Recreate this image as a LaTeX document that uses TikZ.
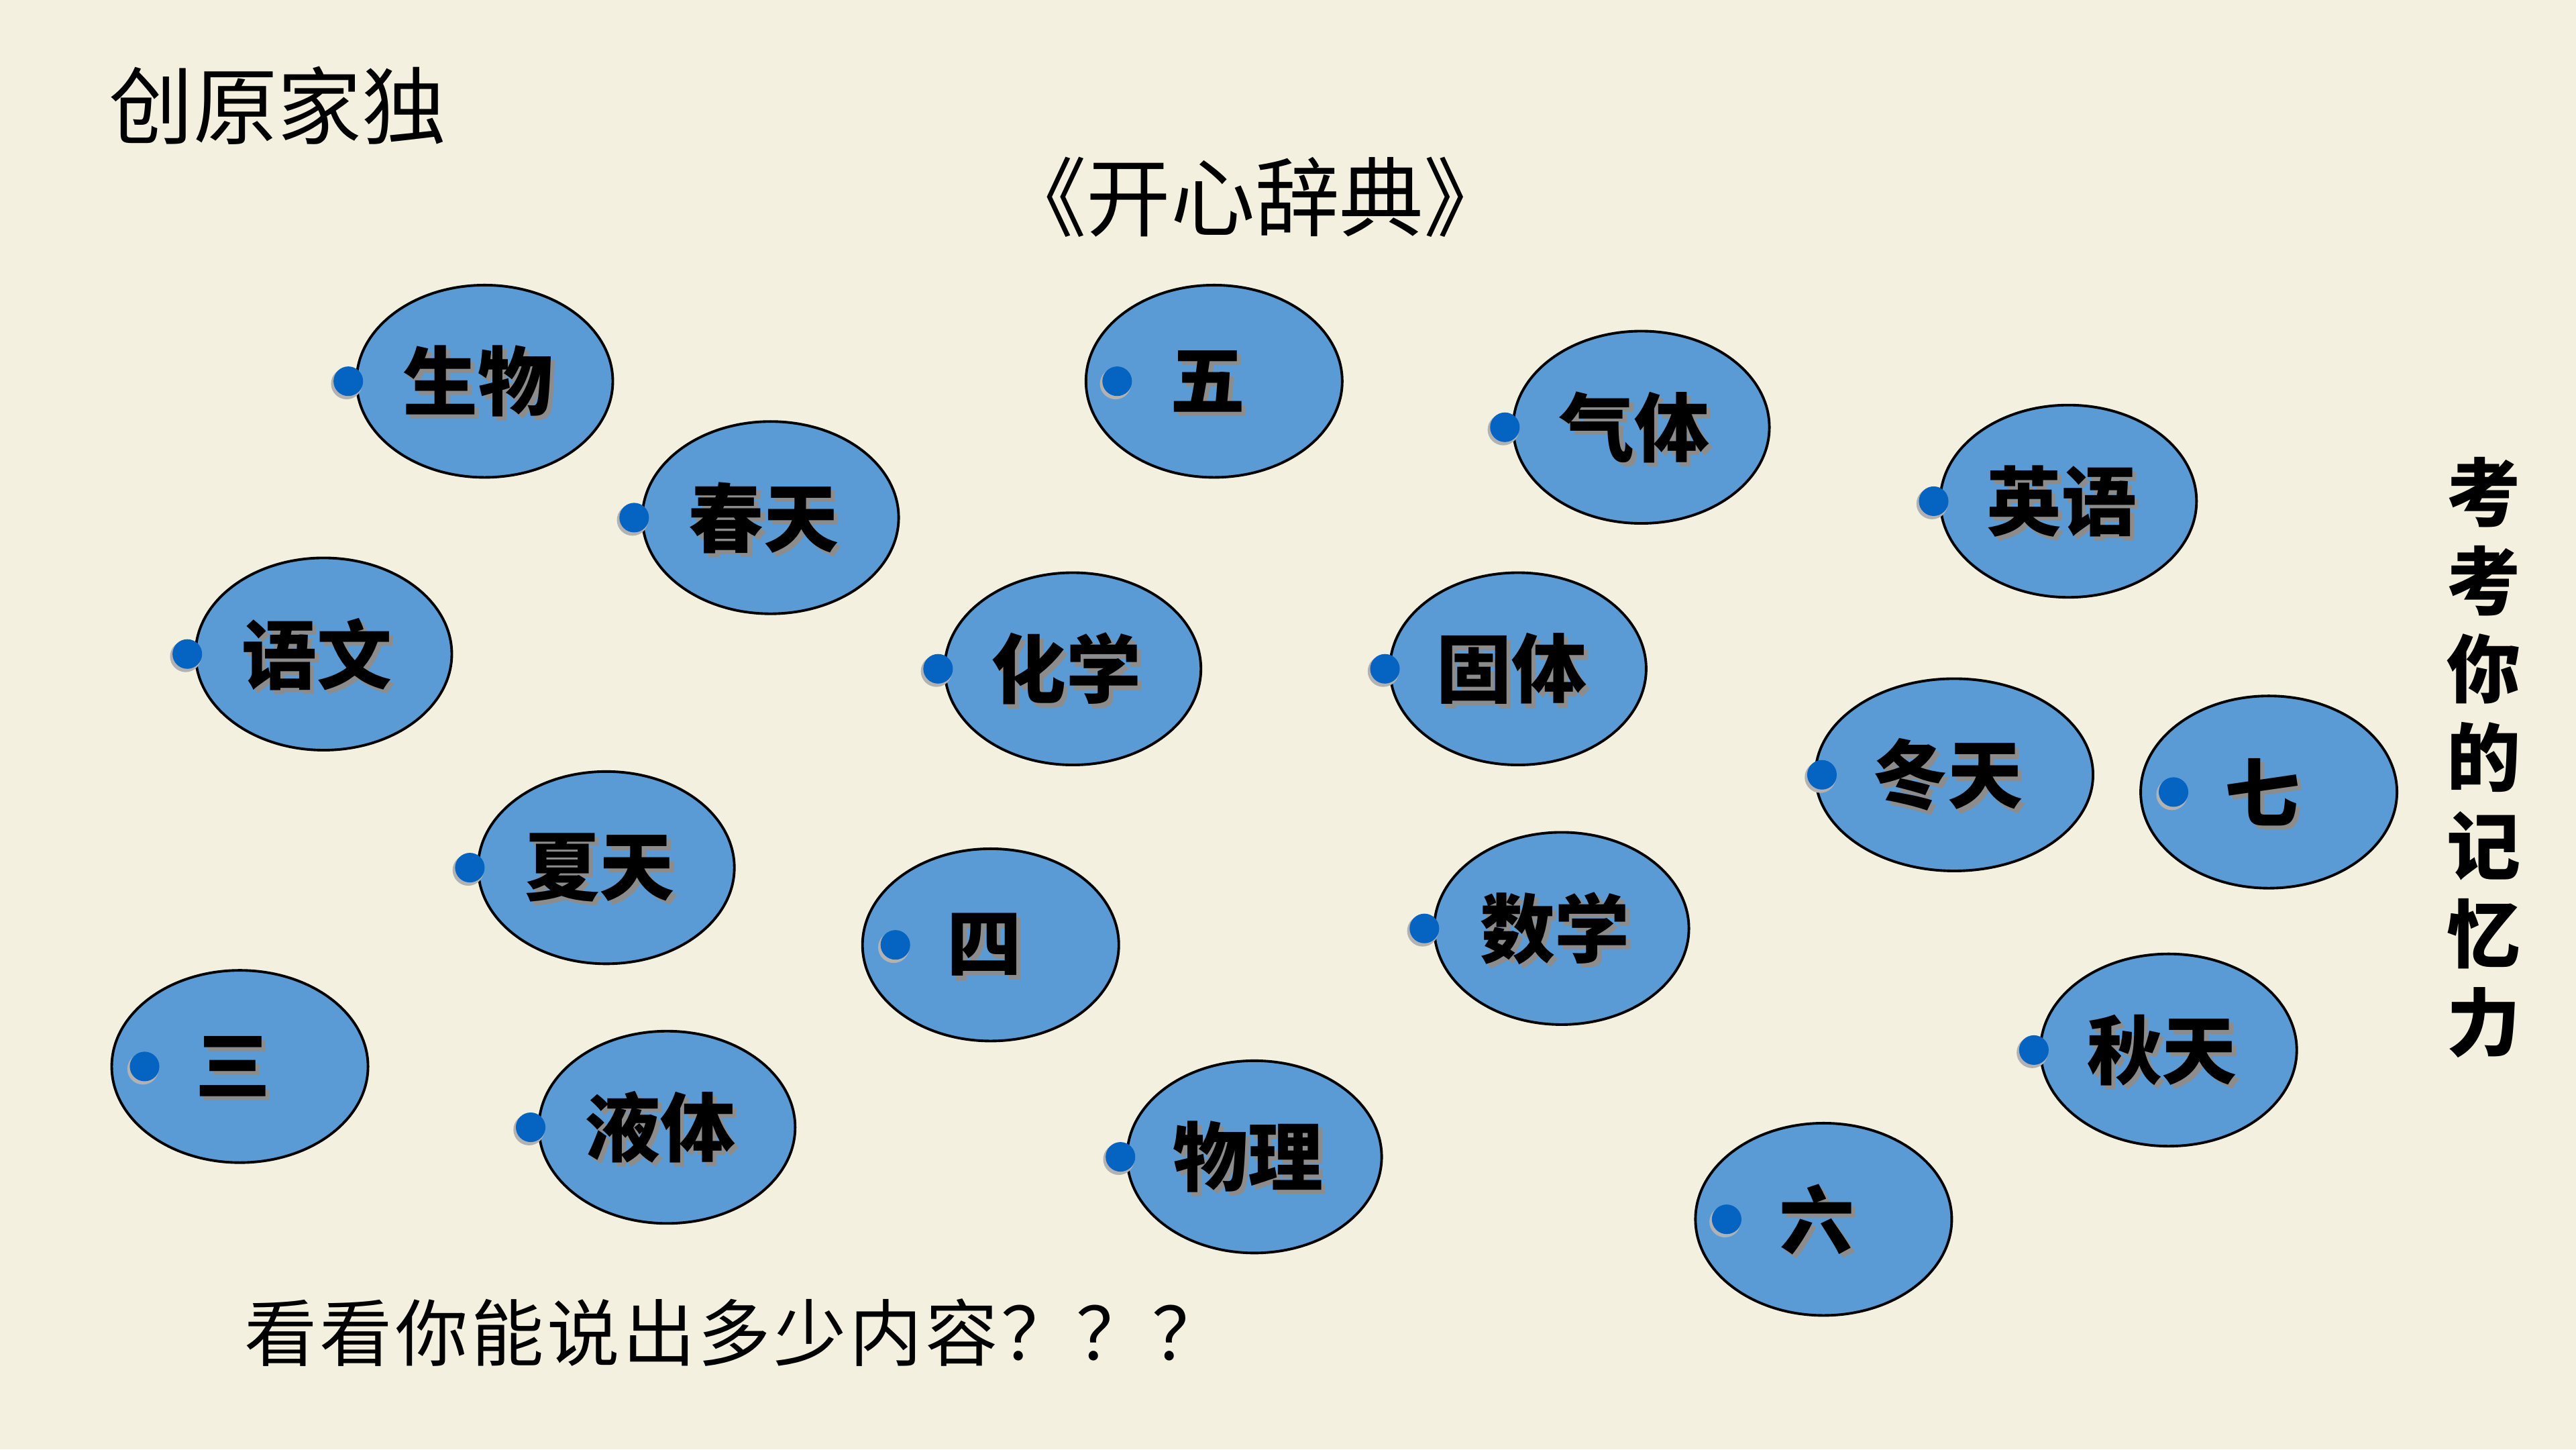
\documentclass[tikz,border=0pt]{standalone}
\usepackage{fontspec}
\setmainfont{Noto Sans CJK SC}
\newfontfamily\cjk{Noto Sans CJK SC}
\newfontfamily\cjkspaced[LetterSpace=4]{Noto Sans CJK SC}
\usetikzlibrary{shapes.geometric}
\definecolor{bg}{HTML}{F3F0DF}
\definecolor{bubblefill}{HTML}{5B9BD5}
\definecolor{dotblue}{HTML}{0563C1}
\tikzset{
  bub/.style={ellipse, draw=black, line width=0.45pt, fill=bubblefill, minimum height=1.17cm, inner sep=0pt},
  bubtxt/.style={font=\cjk\bfseries\fontsize{13pt}{13pt}\selectfont, text=black, inner sep=0pt},
  bubshadow/.style={font=\cjk\bfseries\fontsize{13pt}{13pt}\selectfont, text=black!45, inner sep=0pt},
  bdot/.style={circle, fill=dotblue, minimum size=0.18cm, inner sep=0pt},
  bdotshadow/.style={circle, fill=black!30, minimum size=0.19cm, inner sep=0pt},
}
% name, x, y, text, dot offset, ellipse width
\newcommand{\bubbleitem}[6]{%
  \node[bub, minimum width=#6] (#1) at (#2,#3) {};
  \node[bdotshadow, xshift=#5 cm-0.01cm, yshift=-0.015cm] (#1-ds) at (#1.center) {};
  \node[bdot, xshift=#5 cm] (#1-d) at (#1.center) {};
  \node[bubshadow, xshift=-0.015cm, yshift=-0.025cm] (#1-s) at (#1.center) {#4};
  \node[bubtxt, xshift=-0.04cm] (#1-t) at (#1.center) {#4};
}
\begin{document}
\begin{tikzpicture}
\fill[bg] (0,0) rectangle (15.68,8.82);
\useasboundingbox (0,0) rectangle (15.68,8.82);

\node[font=\cjk\fontsize{14.6pt}{15pt}\selectfont, inner sep=0pt, yscale=1.0] (corner) at (1.69,8.18) {创原家独};
\node[font=\cjk\fontsize{14.6pt}{15pt}\selectfont, inner sep=0pt, yscale=1.02] (title) at (7.64,7.62) {《开心辞典》};

\bubbleitem{b1}{2.95}{6.50}{生物}{-0.83}{1.56cm}
\bubbleitem{b2}{7.39}{6.50}{五}{-0.59}{1.56cm}
\bubbleitem{b3}{9.99}{6.22}{气体}{-0.83}{1.56cm}
\bubbleitem{b4}{12.59}{5.77}{英语}{-0.82}{1.56cm}
\bubbleitem{b5}{4.69}{5.67}{春天}{-0.83}{1.56cm}
\bubbleitem{b6}{1.97}{4.84}{语文}{-0.83}{1.56cm}
\bubbleitem{b7}{6.53}{4.75}{化学}{-0.82}{1.56cm}
\bubbleitem{b8}{9.24}{4.75}{固体}{-0.81}{1.56cm}
\bubbleitem{b9}{11.895}{4.105}{冬天}{-0.805}{1.69cm}
\bubbleitem{b10}{13.81}{4.00}{七}{-0.58}{1.56cm}
\bubbleitem{b11}{3.69}{3.54}{夏天}{-0.83}{1.56cm}
\bubbleitem{b12}{6.03}{3.07}{四}{-0.58}{1.56cm}
\bubbleitem{b13}{9.505}{3.17}{数学}{-0.835}{1.55cm}
\bubbleitem{b14}{1.46}{2.33}{三}{-0.58}{1.56cm}
\bubbleitem{b15}{4.06}{1.96}{液体}{-0.83}{1.56cm}
\bubbleitem{b16}{7.635}{1.78}{物理}{-0.815}{1.55cm}
\bubbleitem{b17}{13.20}{2.43}{秋天}{-0.82}{1.56cm}
\bubbleitem{b18}{11.10}{1.40}{六}{-0.59}{1.56cm}

\node[font=\cjk\bfseries\fontsize{12.8pt}{15.3pt}\selectfont, align=center, inner sep=0pt] (side) at (15.12,4.21) {考\\考\\你\\的\\记\\忆\\力};

\node[font=\cjkspaced\fontsize{12.6pt}{13pt}\selectfont, anchor=west, inner sep=0pt, yscale=1.0] (bottom) at (1.48,0.71) {看看你能说出多少内容？？？};
\end{tikzpicture}
\end{document}
